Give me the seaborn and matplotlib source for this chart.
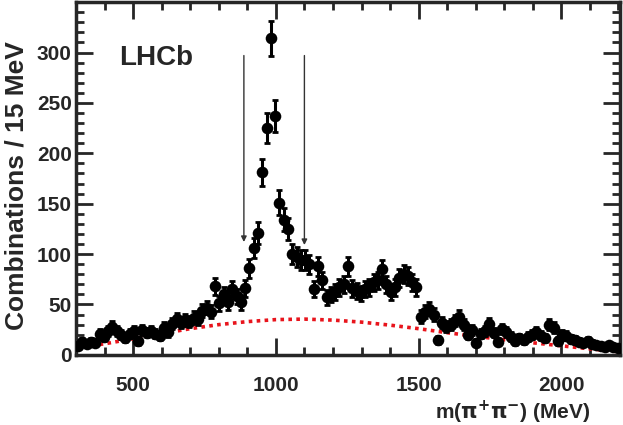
import numpy as np
import pandas as pd
import matplotlib
matplotlib.use('Agg')
import matplotlib.pyplot as plt
import seaborn as sns
from matplotlib.ticker import MultipleLocator, FixedLocator

# centros dos bins (15 MeV) e contagens
mass = np.arange(307.5, 2200, 15)
counts = [9, 13, 11, 13, 12, 21, 18, 24, 28, 24,
          20, 17, 21, 24, 14, 25, 22, 24, 21, 19,
          27, 23, 31, 36, 32, 35, 33, 37, 36, 44,
          47, 43, 68, 51, 60, 52, 65, 58, 52, 66,
          86, 106, 121, 181, 225, 314, 237, 151, 134, 125,
          100, 97, 94, 94, 90, 65, 88, 74, 57, 60,
          62, 67, 70, 88, 66, 63, 61, 65, 67, 72,
          74, 85, 70, 62, 67, 76, 80, 78, 72, 67,
          38, 43, 46, 40, 15, 32, 28, 30, 34, 38,
          30, 20, 25, 12, 21, 24, 31, 22, 13, 26,
          23, 18, 14, 17, 15, 18, 20, 23, 19, 17,
          30, 27, 14, 20, 19, 16, 15, 13, 12, 14,
          11, 10, 9, 8, 10, 8, 7]

# fundo (linha vermelha pontilhada)
bkg_mass = [300, 400, 500, 600, 700, 800, 900, 1000, 1100, 1200,
            1300, 1400, 1500, 1600, 1700, 1800, 1900, 2000, 2100, 2205]
bkg_vals = [7, 11, 16, 21, 26, 30, 33, 35, 35.5, 34.5,
            32.5, 29.5, 26, 22, 18.5, 15, 12, 9, 6, 3]

# janela de seleção (setas)
arrow_x = [888, 1100]
arrow_tip = [112, 109]

y_labels = [0, 50, 100, 150, 200, 250, 300]

df = pd.DataFrame({'mass': mass, 'counts': counts})
df_bkg = pd.DataFrame({'mass': bkg_mass, 'bkg': bkg_vals})

sns.set_style('ticks')
plt.rcParams['font.family'] = ['Liberation Sans', 'DejaVu Sans']
plt.rcParams['font.weight'] = 'bold'
plt.rcParams['mathtext.fontset'] = 'dejavusans'
plt.rcParams['mathtext.default'] = 'bf'

fig = plt.figure(figsize=(6.23, 4.25), dpi=100)
ax = fig.add_axes([0.122, 0.165, 0.873, 0.83])

sns.lineplot(data=df_bkg, x='mass', y='bkg', color='#e8141c', linestyle=(0, (1, 1.2)),
             linewidth=2.6, ax=ax, zorder=2)

ax.errorbar(df['mass'], df['counts'], yerr=np.sqrt(df['counts']), fmt='none',
            ecolor='black', elinewidth=2.2, capsize=2, capthick=2, zorder=3)
sns.scatterplot(data=df, x='mass', y='counts', color='black', s=70, edgecolor='black',
                linewidth=0, ax=ax, zorder=4)

for x0, tip in zip(arrow_x, arrow_tip):
    ax.annotate('', xy=(x0, tip), xytext=(x0, 297),
                arrowprops=dict(arrowstyle='-|>', color='#333333', lw=1.0,
                                mutation_scale=8, shrinkA=0, shrinkB=0))

ax.text(452, 295, 'LHCb', fontsize=20, fontweight='bold', va='center', ha='left')

ax.set_xlim(300, 2205)
ax.set_ylim(0, 350)
ax.xaxis.set_major_locator(MultipleLocator(500))
ax.xaxis.set_minor_locator(MultipleLocator(100))
ax.yaxis.set_major_locator(FixedLocator(y_labels))
ax.yaxis.set_minor_locator(MultipleLocator(10))
ax.tick_params(which='both', direction='in', top=True, right=True, width=2,
               labelsize=15)
ax.tick_params(which='major', length=12)
ax.tick_params(which='minor', length=6)
ax.tick_params(axis='x', pad=15)
ax.tick_params(axis='y', pad=3)
for lab in ax.get_xticklabels() + ax.get_yticklabels():
    lab.set_fontweight('bold')
for s in ax.spines.values():
    s.set_linewidth(2.5)

ax.set_xlabel(r'm($\pi^{+}\pi^{-}$) (MeV)', fontsize=15, fontweight='bold')
ax.xaxis.set_label_coords(0.945, -0.162)
ax.xaxis.label.set_ha('right')
ax.xaxis.label.set_va('center')
ax.set_ylabel('Combinations / 15 MeV', fontsize=19, fontweight='bold')
ax.yaxis.set_label_coords(-0.11, 0.48)
ax.yaxis.label.set_va('center')
ax.yaxis.label.set_ha('center')

fig.savefig('out.png', dpi=100)
